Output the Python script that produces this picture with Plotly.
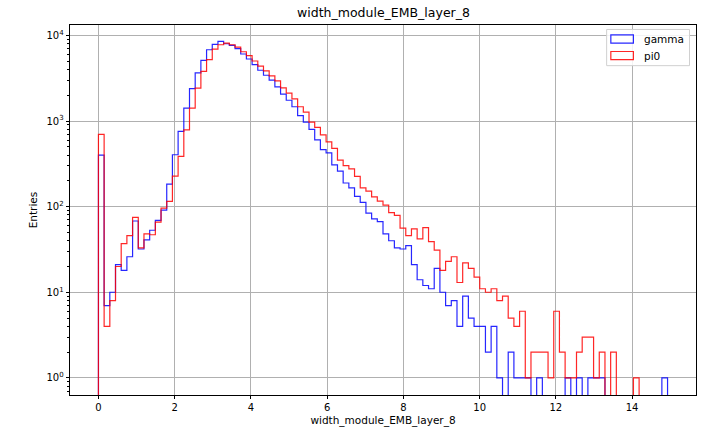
import numpy as np
import plotly.graph_objects as go

# ---- data ----
x_min = 0.0
x_max = 14.93
n_bins = 100

gamma_counts = [
    400, 7, 10, 21, 18, 26, 68, 32, 41, 53,
    69, 91, 183, 404, 759, 1415, 2390, 3650, 5120, 6810,
    7860, 8510, 8000, 7650, 7000, 6070, 5310, 4560, 3920, 3430,
    3000, 2510, 2060, 1750, 1470, 1155, 974, 801, 604, 463,
    424, 308, 260, 189, 166, 132, 112, 84, 72, 67,
    48, 40, 33, 32, 35, 21, 14, 12, 11, 19,
    10, 7, 8, 4, 9, 5, 4, 4, 2, 4,
    1, 0, 2, 1, 1, 1, 0, 1, 0, 0,
    0, 0, 1, 0, 1, 0, 1, 1, 1, 0,
    0, 0, 0, 0, 0, 0, 0, 0, 0, 1,
]

pi0_counts = [
    700, 4, 8, 20, 37, 46, 75, 33, 48, 47,
    66, 96, 115, 227, 386, 787, 1415, 2420, 3810, 5210,
    6930, 7790, 8140, 7790, 7310, 6450, 5800, 5030, 4370, 3850,
    3370, 2950, 2440, 2120, 1820, 1470, 1270, 974, 845, 689,
    572, 480, 349, 302, 277, 226, 166, 152, 130, 116,
    104, 85, 79, 56, 46, 55, 42, 57, 39, 31,
    18, 23, 26, 13, 22, 19, 15, 11, 10, 11,
    8, 9, 5, 4, 6, 1, 2, 2, 2, 1,
    6, 2, 1, 1, 2, 3, 3, 1, 2, 0,
    2, 0, 0, 0, 1, 0, 0, 0, 0, 0,
]

series_names = ["gamma", "pi0"]
series_colors = ["rgba(0,0,255,0.85)", "rgba(255,0,0,0.85)"]

x_tick_vals = [0, 2, 4, 6, 8, 10, 12, 14]
y_decades = [0, 1, 2, 3, 4]

title_text = "width_module_EMB_layer_8"
x_label = "width_module_EMB_layer_8"
y_label = "Entries"

# ---- build step outlines ----
edges = np.linspace(x_min, x_max, n_bins + 1)
FLOOR = 1e-3  # below visible range -> drawn to the bottom of the axes


def step_xy(counts):
    c = np.array(counts, dtype=float)
    c[c <= 0] = FLOOR
    xs = np.concatenate([[edges[0]], edges])
    ys = np.concatenate([[FLOOR], c, [FLOOR]])
    return xs, ys


fig = go.Figure()
for name, counts, col in zip(series_names, [gamma_counts, pi0_counts], series_colors):
    xs, ys = step_xy(counts)
    fig.add_trace(go.Scatter(
        x=xs, y=ys, mode="lines", name=name,
        line=dict(color=col, width=1.2, shape="hv"),
        showlegend=False, hoverinfo="skip",
    ))

# ---- layout geometry ----
W, H = 708, 436
L, R, T, B = 70, 11, 25, 38
pw, ph = W - L - R, H - T - B


def px(xp):
    return (xp - L) / pw


def py(yp):
    return (H - B - yp) / ph


font_family = "DejaVu Sans"

fig.update_layout(
    width=W, height=H,
    margin=dict(l=L, r=R, t=T, b=B),
    paper_bgcolor="white", plot_bgcolor="white",
    font=dict(family=font_family, size=10, color="black"),
    title=dict(text=title_text, x=0.5 * (L + W - R) / W, xanchor="center",
               y=1 - 13 / H, yanchor="middle",
               font=dict(size=12.5, family=font_family, color="black")),
    showlegend=False,
)

fig.update_xaxes(
    range=[-0.746, 15.676],
    tickmode="array", tickvals=x_tick_vals,
    ticks="outside", ticklen=3.5, tickwidth=0.8, tickcolor="black",
    showgrid=True, gridcolor="#b0b0b0", gridwidth=0.8,
    showline=True, linecolor="black", linewidth=0.8, mirror=True,
    zeroline=False,
    title=dict(text=x_label, standoff=4, font=dict(size=10.5)),
    tickfont=dict(size=10),
)

major_vals = [10 ** d for d in y_decades]
major_text = ["10<sup>%d</sup>" % d for d in y_decades]
minor_vals = [m * 10 ** d for d in [-1] + y_decades for m in range(2, 10)]

fig.update_yaxes(
    type="log", range=[-0.2, 4.122],
    tickmode="array", tickvals=major_vals, ticktext=major_text,
    ticks="outside", ticklen=3.5, tickwidth=0.8, tickcolor="black",
    minor=dict(tickmode="array", tickvals=minor_vals, ticks="outside",
               ticklen=2, tickwidth=0.6, tickcolor="black", showgrid=False),
    showgrid=True, gridcolor="#b0b0b0", gridwidth=0.8,
    showline=True, linecolor="black", linewidth=0.8, mirror=True,
    zeroline=False,
    title=dict(text=y_label, standoff=6, font=dict(size=10.5)),
    tickfont=dict(size=10),
)

# ---- manual legend (matplotlib style patches) ----
shapes = [
    dict(type="rect", xref="paper", yref="paper",
         x0=px(607.5), x1=px(690.5), y0=py(66), y1=py(29.5),
         line=dict(color="#d0d0d0", width=1), fillcolor="rgba(255,255,255,0.85)"),
]
legend_rows = [(35, 43.3), (51.7, 60)]
annotations = []
for (y0, y1), name, col in zip(legend_rows, series_names, series_colors):
    shapes.append(dict(type="rect", xref="paper", yref="paper",
                       x0=px(611.7), x1=px(634.3), y0=py(y1), y1=py(y0),
                       line=dict(color=col, width=1.2), fillcolor="rgba(0,0,0,0)"))
    annotations.append(dict(xref="paper", yref="paper", x=px(643), y=py((y0 + y1) / 2),
                            text=name, showarrow=False, xanchor="left", yanchor="middle",
                            font=dict(size=10.5, family=font_family, color="black")))

fig.update_layout(shapes=shapes, annotations=annotations)

fig.write_html("out.html")
